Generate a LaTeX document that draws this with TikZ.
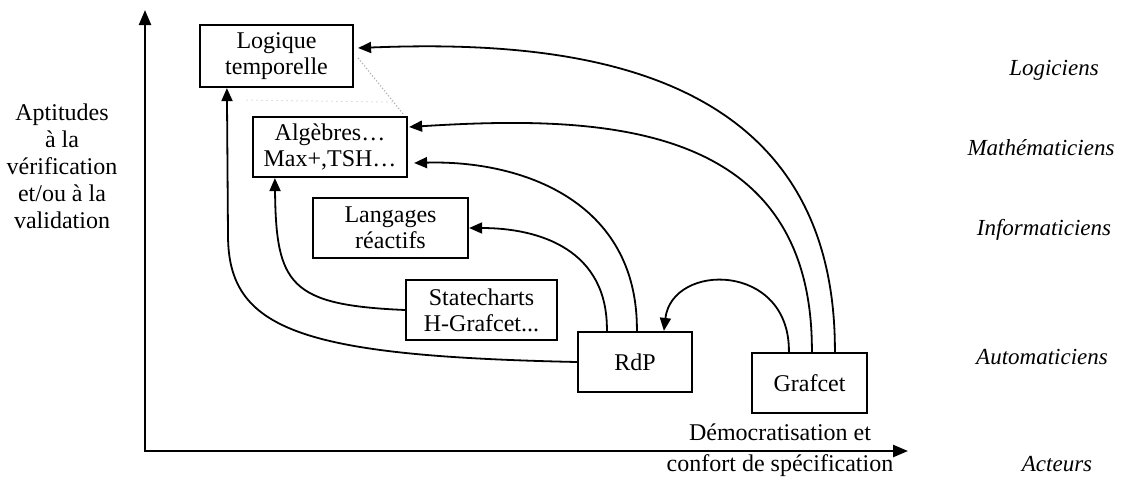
\documentclass[tikz,border=0pt]{standalone}
\usepackage{fontspec}
\setmainfont{Liberation Serif}
\usetikzlibrary{arrows.meta}
\begin{document}
\begin{tikzpicture}[x=1pt,y=-1pt,
  box/.style={draw,line width=2.2pt,align=center,inner sep=0pt,
    font=\fontsize{24}{26}\selectfont},
  link/.style={line width=1.8pt,-{Triangle[length=13pt,width=11pt]}},
  axis/.style={line width=2.4pt,{Triangle[length=15pt,width=12pt]}-{Triangle[length=15pt,width=12pt]}},
  lbl/.style={align=center,font=\fontsize{24}{27}\selectfont},
  actor/.style={font=\fontsize{23}{27}\selectfont\itshape}]
\useasboundingbox (0,0) rectangle (1123,479);

% formalisms
\node[box,minimum width=153pt,minimum height=62pt] (logique) at (276.5,56) {Logique\\temporelle};
\node[box,minimum width=154pt,minimum height=60pt] (alg) at (330,147) {Algèbres…\\Max+,TSH…};
\node[box,minimum width=155pt,minimum height=60pt] (lang) at (390.5,228) {Langages\\réactifs};
\node[box,minimum width=151pt,minimum height=60pt] (state) at (481.5,310) {Statecharts\\H-Grafcet...};
\node[box,minimum width=114pt,minimum height=60pt] (rdp) at (635,362) {RdP};
\node[box,minimum width=115pt,minimum height=60pt] (grafcet) at (809.5,383) {Grafcet};

% axes
\coordinate (ytip) at (145,10);
\coordinate (orig) at (145,451);
\coordinate (xtip) at (908,451);
\draw[axis] (ytip) -- (orig) -- (xtip);

% axis labels
\node[lbl] (apt) at (62,166) {Aptitudes\\à la\\vérification\\et/ou à la\\validation};
\node[lbl] (demo) at (780,432) {Démocratisation et};
\node[lbl] (conf) at (780,466) {confort de spécification};

% actors
\node[actor] (a1) at (1054,70) {Logiciens};
\node[actor] (a2) at (1041,148) {Mathématiciens};
\node[actor] (a3) at (1044,230) {Informaticiens};
\node[actor] (a4) at (1042,357) {Automaticiens};
\node[actor] (a5) at (1057,464) {Acteurs};

% arrow end points on the boxes
\coordinate (logB) at ([xshift=28pt]logique.south west);
\coordinate (logE) at ([shift={(4,-8)}]logique.east);
\coordinate (algB) at ([xshift=23pt]alg.south west);
\coordinate (algHi) at ([shift={(1,-20)}]alg.east);
\coordinate (algLo) at ([shift={(6,16)}]alg.east);
\coordinate (rdpT1) at ([xshift=30pt]rdp.north west);
\coordinate (rdpT2) at ([xshift=60pt]rdp.north west);
\coordinate (rdpT3) at ([xshift=87pt]rdp.north west);
\coordinate (gT1) at ([xshift=38pt]grafcet.north west);
\coordinate (gT2) at ([xshift=61pt]grafcet.north west);
\coordinate (gT3) at ([xshift=84pt]grafcet.north west);

% faint dotted shading between the two upper boxes
\draw[gray!60,line width=1.2pt,dotted] ([shift={(4,2)}]logique.east) -- ([shift={(-5,-2)}]alg.north east);
\draw[gray!45,line width=1pt,loosely dotted] ([shift={(-30,12)}]logique.south) -- ([shift={(42,14)}]logique.south east);

% connectors
\draw[link] (rdp.west) .. controls (300,356) and (228,330) .. (228,235) -- (logB);
\draw[link] (state.west) .. controls (290,305) and (276,285) .. (algB);
\draw[link] (rdpT1) .. controls (608,250) and (540,228) .. (lang.east);
\draw[link] (rdpT2) .. controls (638,200) and (520,160) .. (algLo);
\draw[link] (gT1) .. controls (790,262) and (672,262) .. (rdpT3);
\draw[link] (gT2) .. controls (813,120) and (600,115) .. (algHi);
\draw[link] (gT3) .. controls (836,60) and (560,40) .. (logE);
\end{tikzpicture}
\end{document}
